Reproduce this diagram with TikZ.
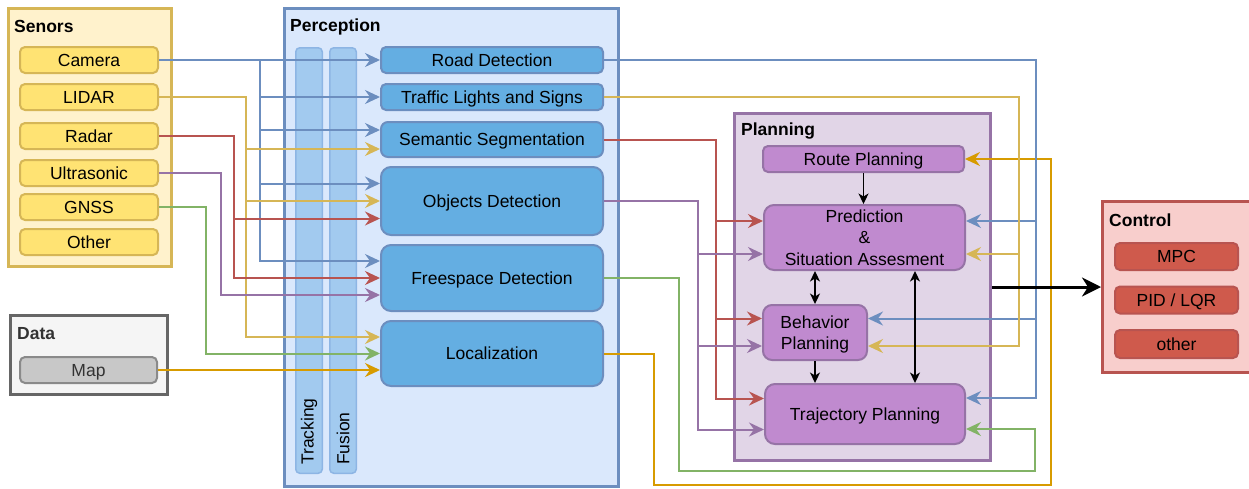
\documentclass[tikz,border=0pt]{standalone}
\usepackage{fontspec}
\setmainfont{Liberation Sans}
\usetikzlibrary{arrows.meta,calc}

\definecolor{ylwFill}{HTML}{FFF2CC}
\definecolor{ylwLine}{HTML}{D6B656}
\definecolor{ylwBox}{HTML}{FFE373}
\definecolor{bluFill}{HTML}{DAE8FC}
\definecolor{bluLine}{HTML}{6C8EBF}
\definecolor{bluBox}{HTML}{64AEE2}
\definecolor{bluBar}{HTML}{A2CAEF}
\definecolor{bluBarLine}{HTML}{8DB5E4}
\definecolor{purFill}{HTML}{E1D5E7}
\definecolor{purLine}{HTML}{9673A6}
\definecolor{purBox}{HTML}{C08ACF}
\definecolor{redFill}{HTML}{F8CECC}
\definecolor{redLine}{HTML}{B85450}
\definecolor{redBox}{HTML}{CF5A4C}
\definecolor{grnLine}{HTML}{82B366}
\definecolor{orgLine}{HTML}{D79B00}
\definecolor{gryFill}{HTML}{F5F5F5}
\definecolor{gryLine}{HTML}{666666}
\definecolor{gryBox}{HTML}{C8C8C8}
\definecolor{gryBoxLine}{HTML}{8A8A8A}
\definecolor{gryText}{HTML}{333333}

\newcommand\lbl{\fontsize{17.5}{21.5}\selectfont}

\begin{document}
\begin{tikzpicture}[x=1pt,y=-1pt,
  group/.style={draw, line width=3pt, inner sep=0pt},
  heading/.style={font=\lbl\bfseries, anchor=west, inner sep=0pt},
  block/.style={draw, line width=2pt, inner sep=0pt, font=\lbl, align=center, rounded corners=5pt},
  oneline/.style={text height=12.6pt, text depth=0pt},
  sensor/.style={block, oneline, fill=ylwBox, draw=ylwLine, minimum width=138pt, minimum height=26pt},
  percep/.style={block, oneline, fill=bluBox, draw=bluLine, minimum width=222pt},
  plan/.style={block, fill=purBox, draw=purLine},
  ctrl/.style={block, oneline, fill=redBox, draw=redLine, minimum width=123pt, minimum height=27pt},
  bar/.style={draw=bluBarLine, fill=bluBar, line width=1.5pt, rounded corners=4pt,
              minimum width=26.5pt, minimum height=425.5pt, inner sep=0pt},
  barlabel/.style={rotate=90, anchor=west, font=\lbl, inner sep=0pt},
  wire/.style={line width=2pt, -{Stealth[length=15pt,width=14pt,inset=5pt]}},
  wBlue/.style={wire, draw=bluLine},
  wYellow/.style={wire, draw=ylwLine},
  wRed/.style={wire, draw=redLine},
  wPurple/.style={wire, draw=purLine},
  wGreen/.style={wire, draw=grnLine},
  wOrange/.style={wire, draw=orgLine},
  link/.style={line width=1.3pt, -{Stealth[length=10.5pt,width=10pt,inset=3pt]}},
  biLink/.style={line width=1.3pt, {Stealth[length=10.5pt,width=10pt,inset=3pt]}-{Stealth[length=10.5pt,width=10pt,inset=3pt]}},
  mainLink/.style={line width=3pt, -{Stealth[length=19pt,width=19pt,inset=6pt]}}
]
\useasboundingbox (0,0) rectangle (1249,488);

% ---------- groups ----------
\node[group, fill=ylwFill, draw=ylwLine, minimum width=163pt, minimum height=258pt] (sensors) at (90,137.5) {};
\node[group, fill=gryFill, draw=gryLine, minimum width=157pt, minimum height=79pt] (data) at (89,355) {};
\node[group, fill=bluFill, draw=bluLine, minimum width=334pt, minimum height=478pt] (perception) at (451.5,247.5) {};
\node[group, fill=purFill, draw=purLine, minimum width=256pt, minimum height=347pt] (planning) at (862.5,287) {};
\node[group, fill=redFill, draw=redLine, minimum width=160pt, minimum height=171pt] (control) at (1182.5,287) {};

\node[heading] (sensorsT) at (14,26) {Senors};
\node[heading, text=gryText] (dataT) at (17,334) {Data};
\node[heading] (perceptionT) at (290,26.5) {Perception};
\node[heading] (planningT) at (741,131.5) {Planning};
\node[heading] (controlT) at (1109,220) {Control};

% ---------- sensors and data ----------
\node[sensor] (cam) at (89,60) {Camera};
\node[sensor] (lidar) at (89,97) {LIDAR};
\node[sensor] (radar) at (89,136) {Radar};
\node[sensor] (ultra) at (89,173) {Ultrasonic};
\node[sensor] (gnss) at (89,207) {GNSS};
\node[sensor] (other) at (89,242) {Other};
\node[block, oneline, fill=gryBox, draw=gryBoxLine, text=gryText, minimum width=137pt, minimum height=26pt] (map) at (88.5,370) {Map};

% ---------- perception ----------
\node[bar] (tracking) at (309,260.5) {};
\node[bar] (fusion) at (343,260.5) {};
\node[barlabel] (trackingT) at (309,465) {Tracking};
\node[barlabel] (fusionT) at (343,465) {Fusion};

\node[percep, minimum height=26pt] (road) at (492,60) {Road Detection};
\node[percep, minimum height=26pt] (tls) at (492,97) {Traffic Lights and Signs};
\node[percep, minimum height=35pt, rounded corners=7pt] (sem) at (492,139.5) {Semantic Segmentation};
\node[percep, minimum height=68pt, rounded corners=10pt] (obj) at (492,201) {Objects Detection};
\node[percep, minimum height=66pt, rounded corners=10pt] (free) at (492,278) {Freespace Detection};
\node[percep, minimum height=65pt, rounded corners=10pt] (loc) at (492,353.5) {Localization};

% ---------- planning ----------
\node[plan, oneline, minimum width=201pt, minimum height=26pt] (route) at (863.5,159) {Route Planning};
\node[plan, minimum width=201pt, minimum height=65pt, rounded corners=10pt] (pred) at (864.5,237.5) {Prediction\\\&\\Situation Assesment};
\node[plan, minimum width=104pt, minimum height=55pt, rounded corners=9pt] (beh) at (815,332.5) {\rule{0pt}{16.4pt}Behavior\\Planning};
\node[plan, oneline, minimum width=200pt, minimum height=60pt, rounded corners=10pt] (traj) at (865,414) {Trajectory Planning};

% ---------- control ----------
\node[ctrl] (mpc) at (1176.5,256.5) {MPC};
\node[ctrl] (pid) at (1176.5,300) {PID / LQR};
\node[ctrl, minimum height=28pt] (othr) at (1176.5,344) {other};

% ---------- bus lines and ports ----------
\coordinate (bCam) at (259.5,0);
\coordinate (bLid) at (246,0);
\coordinate (bRad) at (234,0);
\coordinate (bUlt) at (220.5,0);
\coordinate (bGns) at (206,0);
\coordinate (bSem) at (716,0);
\coordinate (bObj) at (698,0);
\coordinate (bRoad) at (1036,0);
\coordinate (bTls) at (1019,0);
\coordinate (bLink) at (915,0);
\coordinate (gA) at (679,471);
\coordinate (gB) at (1035,471);
\coordinate (oA) at (654,485);
\coordinate (oB) at (1051,485);

\coordinate (semB) at ([yshift=9.5pt]sem.west);
\coordinate (semY) at ([yshift=-9.5pt]sem.west);
\coordinate (objB) at ([yshift=17.5pt]obj.west);
\coordinate (objR) at ([yshift=-17.5pt]obj.west);
\coordinate (freeB) at ([yshift=17pt]free.west);
\coordinate (freeU) at ([yshift=-17pt]free.west);
\coordinate (locY) at ([yshift=16.5pt]loc.west);
\coordinate (locO) at ([yshift=-16.5pt]loc.west);

\coordinate (predLR) at ([yshift=16.5pt]pred.west);
\coordinate (predLU) at ([yshift=-16.5pt]pred.west);
\coordinate (predRB) at ([yshift=16.5pt]pred.east);
\coordinate (predRY) at ([yshift=-16.5pt]pred.east);
\coordinate (behLR) at ([yshift=14pt]beh.west);
\coordinate (behLU) at ([yshift=-13.5pt]beh.west);
\coordinate (behRB) at ([yshift=14pt]beh.east);
\coordinate (behRY) at ([yshift=-13.5pt]beh.east);
\coordinate (trajLR) at ([yshift=15.5pt]traj.west);
\coordinate (trajLU) at ([yshift=-15.5pt]traj.west);
\coordinate (trajRB) at ([yshift=16pt]traj.east);
\coordinate (trajRG) at ([yshift=-15pt]traj.east);

% ---------- sensors into perception ----------
\draw[wBlue] (cam.east) -- (road.west);
\draw[wBlue] (cam.east) -| (bCam |- tls.west) -- (tls.west);
\draw[wBlue] (cam.east) -| (bCam |- semB) -- (semB);
\draw[wBlue] (cam.east) -| (bCam |- objB) -- (objB);
\draw[wBlue] (cam.east) -| (bCam |- freeB) -- (freeB);

\draw[wYellow] (lidar.east) -| (bLid |- semY) -- (semY);
\draw[wYellow] (lidar.east) -| (bLid |- obj.west) -- (obj.west);
\draw[wYellow] (lidar.east) -| (bLid |- locY) -- (locY);

\draw[wRed] (radar.east) -| (bRad |- objR) -- (objR);
\draw[wRed] (radar.east) -| (bRad |- free.west) -- (free.west);

\draw[wPurple] (ultra.east) -| (bUlt |- freeU) -- (freeU);
\draw[wGreen] (gnss.east) -| (bGns |- loc.west) -- (loc.west);
\draw[wOrange] (map.east) -- (locO);

% ---------- perception into planning ----------
\draw[wRed] (sem.east) -| (bSem |- predLR) -- (predLR);
\draw[wRed] (sem.east) -| (bSem |- behLR) -- (behLR);
\draw[wRed] (sem.east) -| (bSem |- trajLR) -- (trajLR);

\draw[wPurple] (obj.east) -| (bObj |- predLU) -- (predLU);
\draw[wPurple] (obj.east) -| (bObj |- behLU) -- (behLU);
\draw[wPurple] (obj.east) -| (bObj |- trajLU) -- (trajLU);

\draw[wGreen] (free.east) -| (gA) -- (gB) |- (trajRG);
\draw[wOrange] (loc.east) -| (oA) -- (oB) |- (route.east);

\draw[wBlue] (road.east) -| (bRoad |- predRB) -- (predRB);
\draw[wBlue] (road.east) -| (bRoad |- behRB) -- (behRB);
\draw[wBlue] (road.east) -| (bRoad |- trajRB) -- (trajRB);

\draw[wYellow] (tls.east) -| (bTls |- predRY) -- (predRY);
\draw[wYellow] (tls.east) -| (bTls |- behRY) -- (behRY);

% ---------- inside planning ----------
\draw[link] (route.south) -- (route.south |- pred.north);
\draw[biLink] (beh.north) -- (beh.north |- pred.south);
\draw[link] (beh.south) -- (beh.south |- traj.north);
\draw[biLink] (bLink |- pred.south) -- (bLink |- traj.north);

% ---------- planning to control ----------
\draw[mainLink] (planning.east) -- (control.west);
\end{tikzpicture}
\end{document}
